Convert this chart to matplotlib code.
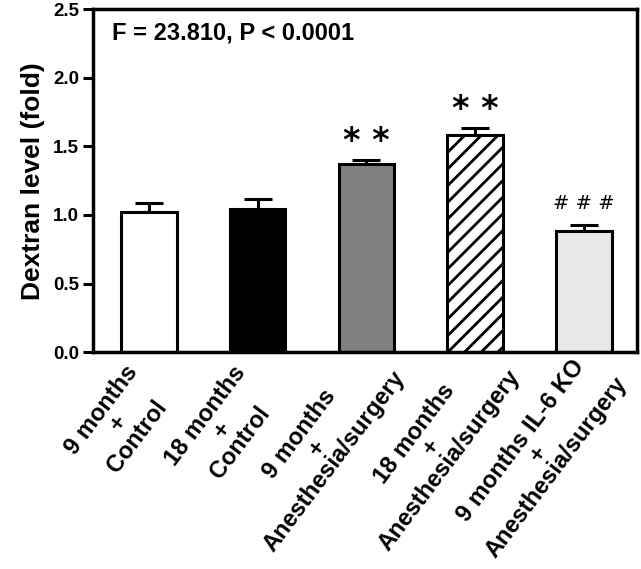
import numpy as np
from matplotlib import pyplot as plt
from matplotlib.transforms import ScaledTranslation

plt.rcParams['font.family'] = ['Liberation Sans', 'DejaVu Sans']
plt.rcParams['hatch.linewidth'] = 2.0

groups = ["9 months\n+\nControl", "18 months\n+\nControl",
          "9 months\n+\nAnesthesia/surgery", "18 months\n+\nAnesthesia/surgery",
          "9 months IL-6 KO\n+\nAnesthesia/surgery"]
means = [1.02, 1.04, 1.37, 1.58, 0.885]
sems = [0.065, 0.075, 0.03, 0.055, 0.04]
marks = ["", "", "**", "**", "###"]
fills = ["white", "black", "#808080", "white", "#e8e8e8"]
hatches = [None, None, None, "//", None]

fig = plt.figure(figsize=(6.41, 5.69), dpi=100)
ax = fig.add_axes([0.145, 0.381, 0.849, 0.603])

x = np.arange(len(means))
bars = ax.bar(x, means, width=0.51, color=fills, edgecolor="black",
              linewidth=2.2, zorder=2)
for b, h in zip(bars, hatches):
    if h:
        b.set_hatch(h)
ax.errorbar(x, means, yerr=[np.zeros(len(sems)), sems], fmt="none",
            ecolor="black", elinewidth=2.2, capsize=10, capthick=2.2, zorder=1)

for i, m in enumerate(marks):
    if not m:
        continue
    top = means[i] + sems[i]
    if m == "**":
        ax.text(x[i], top + 0.015, "* *", ha="center", va="bottom",
                fontsize=24, fontweight="bold", family="DejaVu Sans")
    else:
        ax.text(x[i], top + 0.09, "# # #", ha="center", va="bottom",
                fontsize=14, family="DejaVu Sans")

ax.text(0.035, 0.965, "F = 23.810, P < 0.0001", transform=ax.transAxes,
        ha="left", va="top", fontsize=17, fontweight="bold")

ax.set_xlim(-0.515, 4.49)
ax.set_ylim(0, 2.5)
ax.set_yticks([0, 0.5, 1.0, 1.5, 2.0, 2.5])
ax.set_yticklabels(["0.0", "0.5", "1.0", "1.5", "2.0", "2.5"],
                   fontweight="bold", fontsize=13.5)
ax.set_xticks(x)
ax.set_xticklabels(groups, rotation=53, ha="right", rotation_mode="anchor",
                   multialignment="center", fontweight="bold", fontsize=17,
                   linespacing=0.95)
ax.tick_params(axis="x", length=0, pad=4)
ax.tick_params(axis="y", width=2.2, length=7, direction="out", pad=3)

# nudge the rotated labels (pixels) so they sit like the original
label_shift = [(-25, -3), (-26, -4), (-10, 18), (-4, 19), (-6, 12)]
for lab, (dx, dy) in zip(ax.get_xticklabels(), label_shift):
    lab.set_transform(lab.get_transform() +
                      ScaledTranslation(dx / 100, dy / 100, fig.dpi_scale_trans))

for s in ax.spines.values():
    s.set_linewidth(2.5)
ax.set_ylabel("Dextran level (fold)", fontweight="bold", fontsize=19, labelpad=6)

fig.savefig("out.png", dpi=100)
